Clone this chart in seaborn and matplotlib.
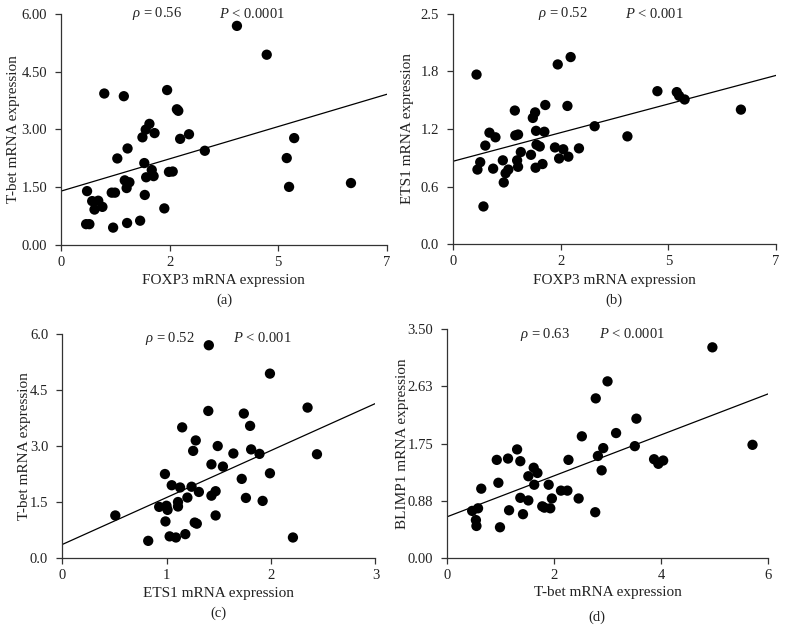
import numpy as np
import pandas as pd
import seaborn as sns
import matplotlib.pyplot as plt

# (a) FOXP3 vs T-bet
foxp3_a = [0.93, 1.35, 2.28, 2.49, 2.52, 1.90, 1.82, 2.01, 1.75, 2.75, 2.56, 1.43, 3.09, 1.21, 1.79,
           1.95, 2.32, 2.40, 1.83, 1.99, 1.37, 1.47, 1.41, 0.56, 1.09, 1.16, 1.80, 0.67, 0.80, 0.72,
           0.89, 2.22, 0.54, 0.61, 1.12, 1.42, 1.70, 3.78, 4.42, 5.01, 4.85, 4.90, 6.23]
tbet_a = [3.93, 3.86, 4.02, 3.52, 3.48, 3.14, 2.99, 2.90, 2.79, 2.87, 2.75, 2.50, 2.44, 2.24, 2.12,
          1.94, 1.89, 1.90, 1.75, 1.78, 1.67, 1.62, 1.47, 1.39, 1.35, 1.35, 1.29, 1.13, 1.14, 0.91,
          0.98, 0.94, 0.53, 0.53, 0.44, 0.56, 0.62, 5.69, 4.94, 2.77, 2.25, 1.50, 1.60]

# (b) FOXP3 vs ETS1
foxp3_b = [0.51, 2.27, 2.55, 1.34, 1.78, 1.73, 2.00, 2.48, 3.07, 0.79, 0.92, 1.35, 1.41, 1.80, 1.98,
           0.70, 1.81, 1.88, 2.21, 2.39, 2.73, 1.47, 1.69, 1.08, 0.59, 1.39, 2.30, 2.50, 0.53, 0.87,
           1.41, 1.94, 1.79, 1.20, 1.14, 1.10, 0.66, 3.78, 4.43, 4.85, 4.90, 5.02, 6.24]
ets1_b = [1.84, 1.95, 2.03, 1.45, 1.43, 1.37, 1.51, 1.50, 1.28, 1.21, 1.16, 1.18, 1.19, 1.23, 1.22,
          1.07, 1.08, 1.06, 1.05, 1.03, 1.04, 1.00, 0.97, 0.91, 0.89, 0.91, 0.93, 0.95, 0.81, 0.82,
          0.84, 0.87, 0.83, 0.81, 0.77, 0.67, 0.41, 1.17, 1.66, 1.65, 1.61, 1.57, 1.46]

# (c) ETS1 vs T-bet
ets1_c = [1.405, 1.40, 1.15, 1.28, 1.255, 1.49, 1.43, 1.54, 0.985, 1.05, 1.13, 1.24, 1.31, 1.20, 1.43,
          1.47, 1.11, 1.11, 0.93, 1.00, 1.01, 0.51, 1.47, 0.99, 1.27, 1.29, 1.03, 1.09, 1.18, 0.825,
          1.99, 2.35, 1.74, 1.80, 1.64, 1.81, 1.89, 2.44, 1.99, 1.72, 1.76, 1.92, 2.21]
tbet_c = [5.70, 3.94, 3.50, 3.15, 2.87, 3.00, 2.51, 2.45, 2.25, 1.95, 1.89, 1.91, 1.77, 1.62, 1.67,
          1.79, 1.50, 1.38, 1.37, 1.40, 1.29, 1.14, 1.14, 0.98, 0.95, 0.92, 0.58, 0.55, 0.64, 0.46,
          4.94, 4.03, 3.87, 3.54, 2.80, 2.91, 2.79, 2.78, 2.27, 2.12, 1.61, 1.53, 0.55]

# (d) T-bet vs BLIMP1
tbet_d = [2.78, 3.00, 2.52, 2.82, 2.92, 2.89, 2.27, 1.31, 0.93, 1.14, 1.37, 1.62, 1.69, 1.52, 0.96,
          1.63, 1.90, 0.64, 1.37, 1.52, 1.96, 2.13, 2.25, 2.46, 1.78, 1.82, 1.93, 1.42, 1.16, 0.47,
          0.58, 0.54, 0.55, 0.99, 2.77, 4.96, 3.54, 3.16, 3.51, 3.87, 3.95, 4.04, 5.71]
blimp1_d = [2.44, 2.70, 1.86, 1.56, 1.68, 1.34, 1.50, 1.66, 1.50, 1.52, 1.48, 1.38, 1.30, 1.25, 1.15,
            1.12, 1.12, 1.06, 0.92, 0.88, 0.91, 1.03, 1.03, 0.91, 0.79, 0.77, 0.76, 0.67, 0.73, 0.72,
            0.76, 0.58, 0.49, 0.47, 0.70, 3.22, 2.13, 1.91, 1.71, 1.51, 1.44, 1.49, 1.73]

# fitted lines: (intercept, slope)
fit_a = (1.39, 0.36)
fit_b = (0.90, 0.133)
fit_c = (0.36, 1.26)
fit_d = (0.63, 0.313)

xticks_foxp3 = ["0", "2", "5", "7"]
yticks_a = ["0.00", "1.50", "3.00", "4.50", "6.00"]
yticks_b = ["0.0", "0.6", "1.2", "1.8", "2.5"]
xticks_c = ["0", "1", "2", "3"]
yticks_c = ["0.0", "1.5", "3.0", "4.5", "6.0"]
xticks_d = ["0", "2", "4", "6"]
yticks_d = ["0.00", "0.88", "1.75", "2.63", "3.50"]

sns.set_style("ticks")
plt.rcParams["font.family"] = ["Liberation Serif", "DejaVu Serif"]
plt.rcParams["mathtext.fontset"] = "custom"
plt.rcParams["mathtext.rm"] = "Liberation Serif"
plt.rcParams["mathtext.it"] = "Liberation Serif:italic"

fig = plt.figure(figsize=(7.87, 6.44), dpi=100)

panels = [
    dict(rect=[0.0775, 0.6203, 0.414, 0.358], x=foxp3_a, y=tbet_a, fit=fit_a, xmax=7, ymax=6,
         xt=xticks_foxp3, yt=yticks_a, xl="FOXP3 mRNA expression", yl="T-bet mRNA expression",
         xlc=-0.128, ylc=-0.126,
         rho="0.56", p="0.0001", rx=1.52, px=3.39, ty=6.0, tag="(a)", tagpos=(0.2846, 0.534)),
    dict(rect=[0.5756, 0.6207, 0.4104, 0.358], x=foxp3_b, y=ets1_b, fit=fit_b, xmax=7, ymax=2.5,
         xt=xticks_foxp3, yt=yticks_b, xl="FOXP3 mRNA expression", yl="ETS1 mRNA expression",
         xlc=-0.128, ylc=-0.121,
         rho="0.52", p="0.001", rx=1.85, px=3.72, ty=2.5, tag="(b)", tagpos=(0.780, 0.534)),
    dict(rect=[0.0788, 0.1335, 0.3983, 0.3478], x=ets1_c, y=tbet_c, fit=fit_c, xmax=3, ymax=6,
         xt=xticks_c, yt=yticks_c, xl="ETS1 mRNA expression", yl="T-bet mRNA expression",
         xlc=-0.129, ylc=-0.099,
         rho="0.52", p="0.001", rx=0.79, px=1.64, ty=5.89, tag="(c)", tagpos=(0.278, 0.048)),
    dict(rect=[0.568, 0.1335, 0.4079, 0.3556], x=tbet_d, y=blimp1_d, fit=fit_d, xmax=6, ymax=3.5,
         xt=xticks_d, yt=yticks_d, xl="T-bet mRNA expression", yl="BLIMP1 mRNA expression",
         xlc=-0.122, ylc=-0.118,
         rho="0.63", p="0.0001", rx=1.37, px=2.84, ty=3.42, tag="(d)", tagpos=(0.7586, 0.042)),
]

for pn in panels:
    ax = fig.add_axes(pn["rect"])
    df = pd.DataFrame({"x": pn["x"], "y": pn["y"]})
    sns.scatterplot(data=df, x="x", y="y", ax=ax, color="black", s=55, edgecolor="none",
                    clip_on=False, zorder=3)
    b0, b1 = pn["fit"]
    sns.lineplot(x=[0, pn["xmax"]], y=[b0, b0 + b1 * pn["xmax"]], ax=ax, color="black",
                 linewidth=0.9, zorder=2)
    ax.set_xlim(0, pn["xmax"])
    ax.set_ylim(0, pn["ymax"])
    ax.set_xticks(np.linspace(0, pn["xmax"], len(pn["xt"])))
    ax.set_xticklabels(pn["xt"])
    ax.set_yticks(np.linspace(0, pn["ymax"], len(pn["yt"])))
    ax.set_yticklabels(pn["yt"])
    ax.tick_params(axis="both", labelsize=10.5, length=4, width=0.9, color="#333333",
                   labelcolor="#222222")
    ax.tick_params(axis="y", pad=6)
    ax.tick_params(axis="x", pad=4)
    for side in ["left", "bottom"]:
        ax.spines[side].set_color("#333333")
        ax.spines[side].set_linewidth(0.9)
    sns.despine(ax=ax)
    ax.set_xlabel(pn["xl"], fontsize=11, color="#222222")
    ax.set_ylabel(pn["yl"], fontsize=11, color="#222222")
    ax.xaxis.set_label_coords(0.5, pn["xlc"])
    ax.yaxis.set_label_coords(pn["ylc"], 0.5)
    ax.text(pn["rx"], pn["ty"], r"$\rho$ = " + pn["rho"], fontsize=10.5, va="center",
            color="#222222")
    ax.text(pn["px"], pn["ty"], r"$P$ < " + pn["p"], fontsize=10.5, va="center",
            color="#222222")
    fig.text(pn["tagpos"][0], pn["tagpos"][1], pn["tag"], fontsize=10.5, ha="center",
             va="center", color="#222222")

fig.savefig("out.png", dpi=100)
